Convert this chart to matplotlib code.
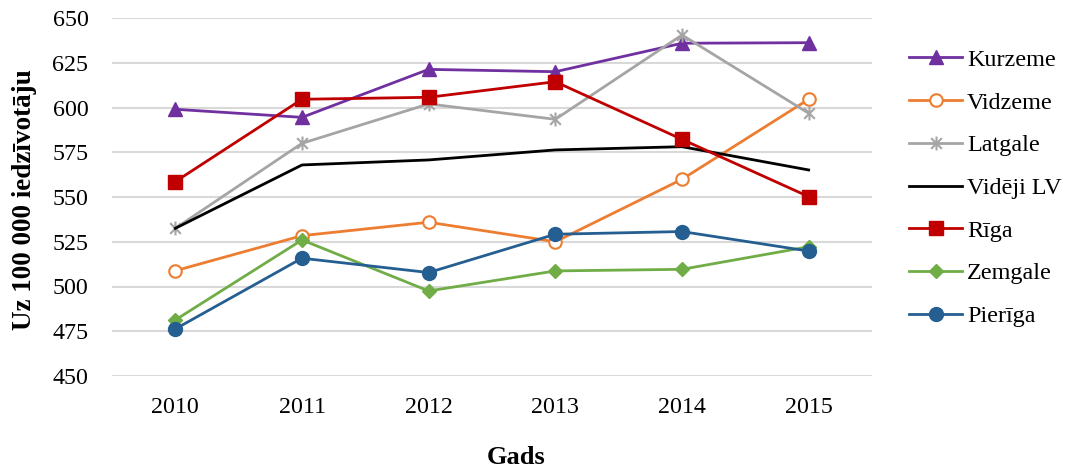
import matplotlib
matplotlib.use("Agg")
import matplotlib.pyplot as plt
from matplotlib.path import Path

years = ["2010", "2011", "2012", "2013", "2014", "2015"]
kurzeme = [599, 594.5, 621.3, 620, 635.9, 636.2]
vidzeme = [508.8, 528.4, 535.9, 525, 559.9, 604.6]
latgale = [532.5, 580, 602, 593.4, 640.5, 596.8]
videji_lv = [532.5, 567.9, 570.7, 576.3, 578.1, 565.1]
riga = [558.6, 604.6, 605.7, 614.4, 582.2, 550.2]
zemgale = [481.3, 526, 497.5, 508.7, 509.6, 522.2]
pieriga = [476.3, 515.8, 507.8, 529.2, 530.7, 519.8]
yticks = [450, 475, 500, 525, 550, 575, 600, 625, 650]

plt.rcParams['font.family'] = ['Liberation Serif', 'DejaVu Serif']

asterisk = Path([(-1, -1), (1, 1), (-1, 1), (1, -1), (0, -1.3), (0, 1.3)],
                [Path.MOVETO, Path.LINETO, Path.MOVETO, Path.LINETO, Path.MOVETO, Path.LINETO])

fig = plt.figure(figsize=(10.68, 4.72), dpi=100)
ax = fig.add_axes([112/1068, 1-376/472, 760/1068, 358/472])

x = list(range(len(years)))
series = [
    ("Kurzeme", kurzeme, dict(color="#7030A0", marker="^", ms=10, mfc="#7030A0")),
    ("Vidzeme", vidzeme, dict(color="#ED7D31", marker="o", ms=9, mfc="white", mew=1.5)),
    ("Latgale", latgale, dict(color="#A5A5A5", marker=asterisk, ms=10, mew=1.5)),
    ("Vidēji LV", videji_lv, dict(color="#000000")),
    ("Rīga", riga, dict(color="#C00000", marker="s", ms=10)),
    ("Zemgale", zemgale, dict(color="#70AD47", marker="D", ms=7.5)),
    ("Pierīga", pieriga, dict(color="#255E91", marker="o", ms=10)),
]
handles = []
for name, vals, st in series:
    h, = ax.plot(x, vals, lw=2, label=name, **st)
    handles.append(h)

ax.set_xlim(-0.5, 5.5)
ax.set_ylim(450, 650)
ax.set_yticks(yticks)
ax.set_xticks(x)
ax.set_xticklabels(years)
ax.tick_params(axis='both', length=0, labelsize=17.3, pad=17)
ax.tick_params(axis='x', pad=15)
ax.yaxis.grid(True, color="#D9D9D9", lw=1.5)
ax.set_axisbelow(True)
for s in ax.spines.values():
    s.set_visible(False)

fig.text(516/1068, 1-458/472, "Gads", ha="center", va="center", fontsize=19, fontweight="bold")
fig.text(25/1068, 1-200/472, "Uz 100 000 iedzīvotāju", ha="center", va="center",
         rotation=90, fontsize=19.5, fontweight="bold")

fig.legend(handles=handles, loc="upper left", bbox_to_anchor=(909/1068, 1-49/472),
           frameon=False, fontsize=17.4, handlelength=2.2, handletextpad=0.2,
           labelspacing=0.86, borderaxespad=0, borderpad=0)

fig.savefig("out.png", dpi=100)
